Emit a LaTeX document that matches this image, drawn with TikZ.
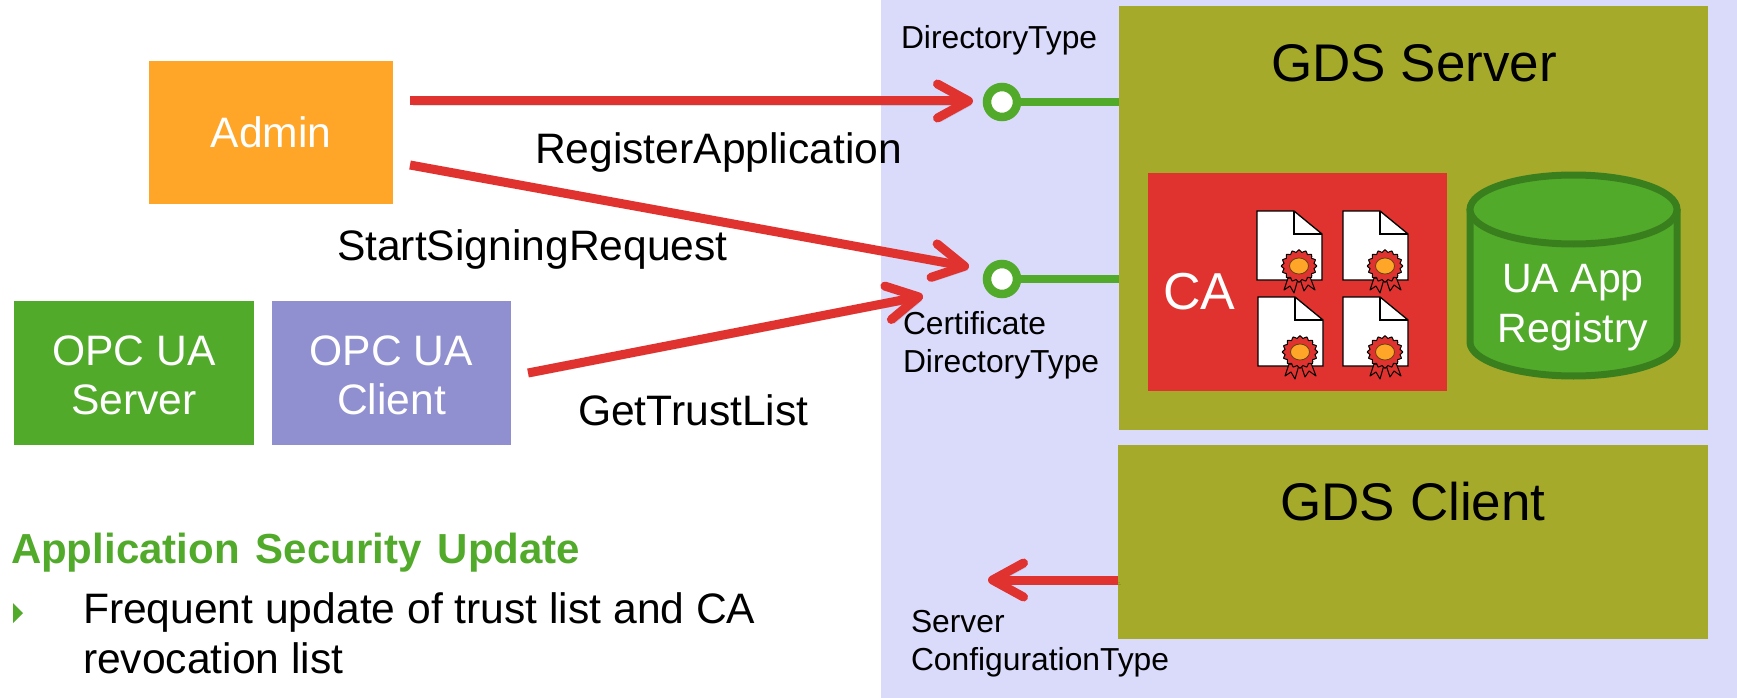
\documentclass[tikz,border=0pt]{standalone}
\usepackage{fontspec}
\setmainfont{Liberation Sans}
\usetikzlibrary{arrows.meta}
\definecolor{panel}{HTML}{DADAFB}
\definecolor{olive}{HTML}{A6AA2B}
\definecolor{redc}{HTML}{E0322F}
\definecolor{greenc}{HTML}{52AA2B}
\definecolor{greend}{HTML}{3A7F1E}
\definecolor{orangec}{HTML}{FFA528}
\definecolor{purplec}{HTML}{9090D0}
\newcommand{\fs}[2]{\fontsize{#1}{#2}\selectfont}
\tikzset{
 x=1pt,y=-1pt,
 box/.style={inner sep=0,outer sep=0,align=center,text=white},
 lbl/.style={inner sep=0,outer sep=0,text=black,anchor=base west},
 redarrow/.style={line width=9,draw=redc,
   -{Straight Barb[length=31,width=34,round]},
   preaction={draw=black,opacity=.12,transform canvas={shift={(3pt,-4pt)}}},
   preaction={draw=black,opacity=.10,transform canvas={shift={(2pt,-2pt)}}}},
 port/.style={circle,draw=greenc,line width=8.5,fill=white,minimum size=30,inner sep=0,outer sep=4},
 portline/.style={draw=greenc,line width=8.5},
 cert/.pic={
   \draw[black,line width=1.3,fill=white] (0,0) -- (37,0) -- (65,23) -- (65,69) -- (0,69) -- cycle;
   \draw[black,line width=1.3] (37,0) -- (37,23) -- (65,23);
   \draw[black,line width=1,fill=redc,line join=round] (31,67) -- (27,79) -- (33,75) -- (37,82) -- (41,68) -- cycle;
   \draw[black,line width=1,fill=redc,line join=round] (43,68) -- (47,80) -- (51,74) -- (58,79) -- (53,66) -- cycle;
   \draw[black,line width=1,fill=redc,line join=round]
     plot[samples=65,domain=0:360] ({42+(16.5+1.3*cos(16*\x))*cos(\x)},{55+(15+1.3*cos(16*\x))*sin(\x)}) -- cycle;
   \draw[black!60!orangec,line width=.8,fill=orangec] (42,55) ellipse (9.5 and 8);
 }
}
\begin{document}
\begin{tikzpicture}
\useasboundingbox (0,0) rectangle (1737,698);
% panel
\fill[panel] (881,0) rectangle (1737,698);
% boxes
\node[box,fill=olive,minimum width=589,minimum height=424] (server) at (1413.5,218) {};
\node[box,fill=olive,minimum width=590,minimum height=194] (client) at (1413,542) {};
\node[box,fill=redc,minimum width=299,minimum height=218] (ca) at (1297.5,282) {};
\node[box,fill=orangec,minimum width=244,minimum height=143,font=\fs{42.6}{50}] (admin) at (271,132.5) {Admin};
\node[box,fill=greenc,minimum width=240,minimum height=144] (opcs) at (134,373) {};
\node[box,fill=purplec,minimum width=239,minimum height=144] (opcc) at (391.5,373) {};
\node[box,font=\fs{42.6}{49}] (opcst) at (134,375) {OPC UA\\Server};
\node[box,font=\fs{42.6}{49}] (opcct) at (391.5,375) {OPC UA\\Client};
% registry cylinder
\draw[draw=greend,line width=7,fill=greenc,line join=round] (1470,209.5) -- plot[domain=180:0,samples=49] ({1573.5+103.5*cos(\x)},{342+34*sin(\x)}) -- (1677,209.5) -- cycle;
\draw[draw=greend,line width=7,fill=greenc] (1573.5,209.5) ellipse (103.5 and 34.5);
\node[box,font=\fs{41}{50}] (regt) at (1573,307.5) {UA App\\Registry};
% titles
\node[lbl,anchor=base,font=\fs{53}{60}] (srvt) at (1414,82) {GDS Server};
\node[lbl,anchor=base,font=\fs{53}{60}] (clit) at (1413,520) {GDS Client};
\node[lbl,text=white,font=\fs{52}{60}] (cat) at (1163,309) {CA};
% certificates
\pic at (1257,211) {cert};
\pic at (1343,211) {cert};
\pic at (1258,297) {cert};
\pic at (1343,297) {cert};
% ports
\node[port] (p1) at (1002,102) {};
\node[port] (p2) at (1002,279) {};
\draw[portline] (p1) -- (p1 -| server.west);
\draw[portline] (p2) -- (p2 -| server.west);
% arrows
\coordinate (s1) at (410,101); \coordinate (t1) at (973,101);
\coordinate (s2) at (410,165); \coordinate (t2) at (969,267);
\coordinate (s3) at (528,373); \coordinate (t3) at (923,296);
\coordinate (t4) at (988,580);
\draw[redarrow] (s1) -- (t1);
\draw[redarrow] (s2) -- (t2);
\draw[redarrow] (s3) -- (t3);
\draw[redarrow] (client.west |- t4) -- (t4);
% labels
\node[lbl,font=\fs{42.6}{50}] (l1) at (535,163) {RegisterApplication};
\node[lbl,font=\fs{42.6}{50}] (l2) at (337,260) {StartSigningRequest};
\node[lbl,font=\fs{42.6}{50}] (l3) at (578,425) {GetTrustList};
\node[lbl,font=\fs{31.8}{38}] (l4) at (901,49) {DirectoryType};
\node[lbl,font=\fs{31.8}{38}] (l5a) at (903,334) {Certificate};
\node[lbl,font=\fs{31.8}{38}] (l5b) at (903,372) {DirectoryType};
\node[lbl,font=\fs{31.8}{38}] (l6a) at (911,632) {Server};
\node[lbl,font=\fs{31.8}{38}] (l6b) at (911,670) {ConfigurationType};
% text block
\node[lbl,text=greenc,font=\fs{42}{48}\bfseries] (h) at (11,563) {Application\hspace{4.5pt} Security\hspace{4.5pt} Update};
\fill[greenc] (13,603) -- (23,613) -- (13,623) -- cycle;
\node[lbl,font=\fs{42.6}{48}] (b1) at (83,623.5) {Frequent update of trust list and CA};
\node[lbl,font=\fs{42.6}{48}] (b2) at (83,673.5) {revocation list};
\end{tikzpicture}
\end{document}
